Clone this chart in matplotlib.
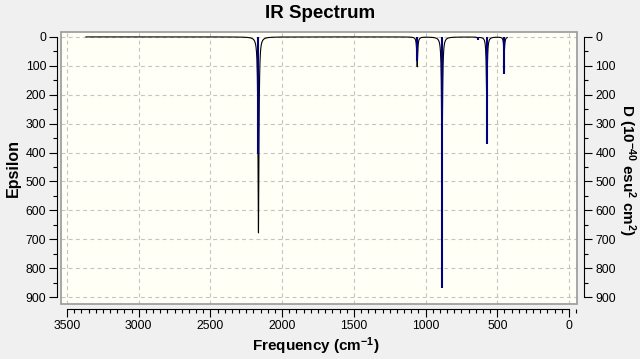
import numpy as np
import matplotlib
matplotlib.use('Agg')
import matplotlib.pyplot as plt
from matplotlib.patches import Rectangle
from matplotlib.ticker import MultipleLocator, FixedLocator

plt.rcParams['font.family'] = ['Liberation Sans', 'DejaVu Sans']
plt.rcParams['mathtext.fontset'] = 'custom'
plt.rcParams['mathtext.rm'] = 'Liberation Sans:bold'
plt.rcParams['mathtext.bf'] = 'Liberation Sans:bold'
plt.rcParams['mathtext.default'] = 'bf'

# ---- data ----
freqs = [2165, 1058, 885, 636, 573, 452]          # cm^-1
dipole = [405, 85, 870, 12, 372, 128]             # D (10^-40 esu^2 cm^2)
epsilon_peak = [678, 103, 443, 4, 222, 62]        # Epsilon at band maxima
hwhm = 4.0                                        # band half-width (cm^-1)
curve_start, curve_end = 3368, 430
x_ticks = [3500, 3000, 2500, 2000, 1500, 1000, 500, 0]
y_ticks = [0, 100, 200, 300, 400, 500, 600, 700, 800, 900]

# broadened spectrum from the bands
x = np.arange(curve_end, curve_start + 0.25, 0.5)
eps = np.zeros_like(x)
for f, a in zip(freqs, epsilon_peak):
    eps += a * hwhm**2 / ((x - f)**2 + hwhm**2)

W, H = 640, 359
fig = plt.figure(figsize=(W / 100, H / 100), dpi=100, facecolor='#F0F0F0')
ax = fig.add_axes([61 / W, 1 - 304 / H, 516 / W, 272 / H])
ax.set_facecolor('#FFFFF6')

ax.set_xlim(3542, -56)
ax.set_ylim(924, -17)

ax.xaxis.set_major_locator(FixedLocator(x_ticks))
ax.xaxis.set_minor_locator(MultipleLocator(50))
ax.yaxis.set_major_locator(FixedLocator(y_ticks))
ax.yaxis.set_minor_locator(MultipleLocator(50))

ax.grid(True, which='major', color='#C4C4C4', lw=0.8, ls=(0, (3.5, 3)))
ax.set_axisbelow(True)

ax.plot(x, eps, color='black', lw=0.8, zorder=3)
ax.vlines(freqs, 0, dipole, color='#000080', lw=1.5, zorder=4)

# axis lines
ax.spines['top'].set_visible(False)
for s in ['left', 'right', 'bottom']:
    ax.spines[s].set_linewidth(0.8)
    ax.spines[s].set_color('black')
ax.spines['left'].set_position(('outward', 2.6))
ax.spines['right'].set_position(('outward', 5.2))
ax.spines['bottom'].set_position(('outward', 3.8))
ax.spines['left'].set_bounds(0, 900)
ax.spines['right'].set_bounds(0, 900)
ax.spines['bottom'].set_bounds(0, 3500)

ax.tick_params(axis='y', which='both', left=True, right=True, labelleft=True, labelright=True)
ax.tick_params(axis='x', which='both', top=False)
ax.tick_params(which='major', direction='out', length=6, width=0.8, labelsize=8.8, pad=2)
ax.tick_params(which='minor', direction='out', length=3, width=0.8)

frame = Rectangle((0, 0), 1, 1, transform=ax.transAxes, fill=False,
                  edgecolor='#A0A0A0', lw=1.3, clip_on=False, zorder=6)
ax.add_patch(frame)

fig.text(320 / W, 1 - 14 / H, 'IR Spectrum', ha='center', va='center',
         fontsize=13.5, fontweight='bold')
fig.text(316 / W, 1 - 346 / H, r'Frequency (cm$^{-1}$)', ha='center', va='center',
         fontsize=11, fontweight='bold')
fig.text(13 / W, 1 - 168 / H, 'Epsilon', ha='center', va='center', rotation=90,
         fontsize=11.5, fontweight='bold')
fig.text(627 / W, 1 - 170 / H, r'D (10$^{-40}$ esu$^{2}$ cm$^{2}$)', ha='center',
         va='center', rotation=-90, fontsize=11, fontweight='bold')

fig.savefig('out.png', dpi=100, facecolor=fig.get_facecolor())
